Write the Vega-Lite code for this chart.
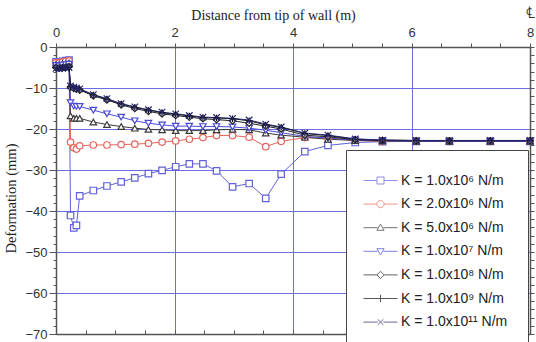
{
"$schema": "https://vega.github.io/schema/vega-lite/v6.json",
"width": 474, "height": 287,
"autosize": "none",
"padding": {"left": 56, "top": 47, "right": 6, "bottom": 8},
"background": "white",
"config": {"view": {"stroke": null}, "axis": {"labelFont": "Liberation Sans", "labelFontSize": 13, "labelColor": "#333", "titleFont": "Liberation Serif", "titleFontSize": 14, "titleFontWeight": "normal", "titleColor": "#222", "domainColor": "#555", "domainWidth": 1.5, "tickColor": "#555", "tickWidth": 1}},
"data": {"values": [
{"K":"K = 1.0x10⁶ N/m","x":0,"y":-3.6},{"K":"K = 1.0x10⁶ N/m","x":0.055,"y":-3.7},{"K":"K = 1.0x10⁶ N/m","x":0.11,"y":-3.5},{"K":"K = 1.0x10⁶ N/m","x":0.165,"y":-3.3},{"K":"K = 1.0x10⁶ N/m","x":0.22,"y":-3.2},{"K":"K = 1.0x10⁶ N/m","x":0.245,"y":-41.1},{"K":"K = 1.0x10⁶ N/m","x":0.3,"y":-44.1},{"K":"K = 1.0x10⁶ N/m","x":0.345,"y":-43.5},{"K":"K = 1.0x10⁶ N/m","x":0.4,"y":-36.3},{"K":"K = 1.0x10⁶ N/m","x":0.63,"y":-35.0},{"K":"K = 1.0x10⁶ N/m","x":0.86,"y":-33.9},{"K":"K = 1.0x10⁶ N/m","x":1.1,"y":-32.9},{"K":"K = 1.0x10⁶ N/m","x":1.33,"y":-31.9},{"K":"K = 1.0x10⁶ N/m","x":1.56,"y":-30.9},{"K":"K = 1.0x10⁶ N/m","x":1.79,"y":-30.1},{"K":"K = 1.0x10⁶ N/m","x":2.02,"y":-29.2},{"K":"K = 1.0x10⁶ N/m","x":2.25,"y":-28.5},{"K":"K = 1.0x10⁶ N/m","x":2.48,"y":-28.5},{"K":"K = 1.0x10⁶ N/m","x":2.71,"y":-30.2},{"K":"K = 1.0x10⁶ N/m","x":2.98,"y":-34.1},{"K":"K = 1.0x10⁶ N/m","x":3.26,"y":-33.3},{"K":"K = 1.0x10⁶ N/m","x":3.54,"y":-36.9},{"K":"K = 1.0x10⁶ N/m","x":3.8,"y":-31.0},{"K":"K = 1.0x10⁶ N/m","x":4.2,"y":-25.5},{"K":"K = 1.0x10⁶ N/m","x":4.59,"y":-24.0},{"K":"K = 1.0x10⁶ N/m","x":5.05,"y":-23.3},{"K":"K = 1.0x10⁶ N/m","x":5.51,"y":-23.1},{"K":"K = 1.0x10⁶ N/m","x":6.08,"y":-23.0},{"K":"K = 1.0x10⁶ N/m","x":6.64,"y":-23.0},{"K":"K = 1.0x10⁶ N/m","x":7.33,"y":-23.0},{"K":"K = 1.0x10⁶ N/m","x":8.0,"y":-23.0},
{"K":"K = 2.0x10⁶ N/m","x":0,"y":-3.8},{"K":"K = 2.0x10⁶ N/m","x":0.055,"y":-3.9},{"K":"K = 2.0x10⁶ N/m","x":0.11,"y":-3.7},{"K":"K = 2.0x10⁶ N/m","x":0.165,"y":-3.5},{"K":"K = 2.0x10⁶ N/m","x":0.22,"y":-3.4},{"K":"K = 2.0x10⁶ N/m","x":0.245,"y":-23.2},{"K":"K = 2.0x10⁶ N/m","x":0.3,"y":-24.6},{"K":"K = 2.0x10⁶ N/m","x":0.345,"y":-24.9},{"K":"K = 2.0x10⁶ N/m","x":0.4,"y":-24.1},{"K":"K = 2.0x10⁶ N/m","x":0.63,"y":-23.9},{"K":"K = 2.0x10⁶ N/m","x":0.86,"y":-23.9},{"K":"K = 2.0x10⁶ N/m","x":1.1,"y":-23.8},{"K":"K = 2.0x10⁶ N/m","x":1.33,"y":-23.7},{"K":"K = 2.0x10⁶ N/m","x":1.56,"y":-23.5},{"K":"K = 2.0x10⁶ N/m","x":1.79,"y":-23.2},{"K":"K = 2.0x10⁶ N/m","x":2.02,"y":-22.9},{"K":"K = 2.0x10⁶ N/m","x":2.25,"y":-22.5},{"K":"K = 2.0x10⁶ N/m","x":2.48,"y":-22.1},{"K":"K = 2.0x10⁶ N/m","x":2.71,"y":-21.6},{"K":"K = 2.0x10⁶ N/m","x":2.98,"y":-21.6},{"K":"K = 2.0x10⁶ N/m","x":3.26,"y":-22.0},{"K":"K = 2.0x10⁶ N/m","x":3.54,"y":-24.3},{"K":"K = 2.0x10⁶ N/m","x":3.8,"y":-23.0},{"K":"K = 2.0x10⁶ N/m","x":4.2,"y":-22.1},{"K":"K = 2.0x10⁶ N/m","x":4.59,"y":-22.3},{"K":"K = 2.0x10⁶ N/m","x":5.05,"y":-22.8},{"K":"K = 2.0x10⁶ N/m","x":5.51,"y":-23.0},{"K":"K = 2.0x10⁶ N/m","x":6.08,"y":-23.0},{"K":"K = 2.0x10⁶ N/m","x":6.64,"y":-23.0},{"K":"K = 2.0x10⁶ N/m","x":7.33,"y":-23.0},{"K":"K = 2.0x10⁶ N/m","x":8.0,"y":-23.0},
{"K":"K = 5.0x10⁶ N/m","x":0,"y":-4.2},{"K":"K = 5.0x10⁶ N/m","x":0.055,"y":-4.3},{"K":"K = 5.0x10⁶ N/m","x":0.11,"y":-4.1},{"K":"K = 5.0x10⁶ N/m","x":0.165,"y":-4.0},{"K":"K = 5.0x10⁶ N/m","x":0.22,"y":-3.9},{"K":"K = 5.0x10⁶ N/m","x":0.245,"y":-16.8},{"K":"K = 5.0x10⁶ N/m","x":0.3,"y":-17.4},{"K":"K = 5.0x10⁶ N/m","x":0.345,"y":-17.4},{"K":"K = 5.0x10⁶ N/m","x":0.4,"y":-17.4},{"K":"K = 5.0x10⁶ N/m","x":0.63,"y":-18.3},{"K":"K = 5.0x10⁶ N/m","x":0.86,"y":-18.9},{"K":"K = 5.0x10⁶ N/m","x":1.1,"y":-19.4},{"K":"K = 5.0x10⁶ N/m","x":1.33,"y":-19.8},{"K":"K = 5.0x10⁶ N/m","x":1.56,"y":-20.1},{"K":"K = 5.0x10⁶ N/m","x":1.79,"y":-20.2},{"K":"K = 5.0x10⁶ N/m","x":2.02,"y":-20.4},{"K":"K = 5.0x10⁶ N/m","x":2.25,"y":-20.4},{"K":"K = 5.0x10⁶ N/m","x":2.48,"y":-20.4},{"K":"K = 5.0x10⁶ N/m","x":2.71,"y":-20.2},{"K":"K = 5.0x10⁶ N/m","x":2.98,"y":-20.1},{"K":"K = 5.0x10⁶ N/m","x":3.26,"y":-20.2},{"K":"K = 5.0x10⁶ N/m","x":3.54,"y":-21.0},{"K":"K = 5.0x10⁶ N/m","x":3.8,"y":-21.5},{"K":"K = 5.0x10⁶ N/m","x":4.2,"y":-22.0},{"K":"K = 5.0x10⁶ N/m","x":4.59,"y":-22.5},{"K":"K = 5.0x10⁶ N/m","x":5.05,"y":-22.8},{"K":"K = 5.0x10⁶ N/m","x":5.51,"y":-22.9},{"K":"K = 5.0x10⁶ N/m","x":6.08,"y":-23.0},{"K":"K = 5.0x10⁶ N/m","x":6.64,"y":-23.0},{"K":"K = 5.0x10⁶ N/m","x":7.33,"y":-23.0},{"K":"K = 5.0x10⁶ N/m","x":8.0,"y":-23.0},
{"K":"K = 1.0x10⁷ N/m","x":0,"y":-4.5},{"K":"K = 1.0x10⁷ N/m","x":0.055,"y":-4.6},{"K":"K = 1.0x10⁷ N/m","x":0.11,"y":-4.4},{"K":"K = 1.0x10⁷ N/m","x":0.165,"y":-4.3},{"K":"K = 1.0x10⁷ N/m","x":0.22,"y":-4.2},{"K":"K = 1.0x10⁷ N/m","x":0.245,"y":-13.6},{"K":"K = 1.0x10⁷ N/m","x":0.3,"y":-14.4},{"K":"K = 1.0x10⁷ N/m","x":0.345,"y":-14.5},{"K":"K = 1.0x10⁷ N/m","x":0.4,"y":-14.5},{"K":"K = 1.0x10⁷ N/m","x":0.63,"y":-15.4},{"K":"K = 1.0x10⁷ N/m","x":0.86,"y":-16.3},{"K":"K = 1.0x10⁷ N/m","x":1.1,"y":-17.1},{"K":"K = 1.0x10⁷ N/m","x":1.33,"y":-18.0},{"K":"K = 1.0x10⁷ N/m","x":1.56,"y":-18.6},{"K":"K = 1.0x10⁷ N/m","x":1.79,"y":-19.0},{"K":"K = 1.0x10⁷ N/m","x":2.02,"y":-19.3},{"K":"K = 1.0x10⁷ N/m","x":2.25,"y":-19.3},{"K":"K = 1.0x10⁷ N/m","x":2.48,"y":-19.4},{"K":"K = 1.0x10⁷ N/m","x":2.71,"y":-19.4},{"K":"K = 1.0x10⁷ N/m","x":2.98,"y":-19.5},{"K":"K = 1.0x10⁷ N/m","x":3.26,"y":-19.8},{"K":"K = 1.0x10⁷ N/m","x":3.54,"y":-20.3},{"K":"K = 1.0x10⁷ N/m","x":3.8,"y":-20.9},{"K":"K = 1.0x10⁷ N/m","x":4.2,"y":-21.8},{"K":"K = 1.0x10⁷ N/m","x":4.59,"y":-22.2},{"K":"K = 1.0x10⁷ N/m","x":5.05,"y":-22.7},{"K":"K = 1.0x10⁷ N/m","x":5.51,"y":-22.9},{"K":"K = 1.0x10⁷ N/m","x":6.08,"y":-23.0},{"K":"K = 1.0x10⁷ N/m","x":6.64,"y":-23.0},{"K":"K = 1.0x10⁷ N/m","x":7.33,"y":-23.0},{"K":"K = 1.0x10⁷ N/m","x":8.0,"y":-23.0},
{"K":"K = 1.0x10⁸ N/m","x":0,"y":-5.0},{"K":"K = 1.0x10⁸ N/m","x":0.055,"y":-5.1},{"K":"K = 1.0x10⁸ N/m","x":0.11,"y":-5.0},{"K":"K = 1.0x10⁸ N/m","x":0.165,"y":-4.9},{"K":"K = 1.0x10⁸ N/m","x":0.22,"y":-4.8},{"K":"K = 1.0x10⁸ N/m","x":0.245,"y":-9.8},{"K":"K = 1.0x10⁸ N/m","x":0.3,"y":-10.1},{"K":"K = 1.0x10⁸ N/m","x":0.345,"y":-10.3},{"K":"K = 1.0x10⁸ N/m","x":0.4,"y":-10.5},{"K":"K = 1.0x10⁸ N/m","x":0.63,"y":-11.9},{"K":"K = 1.0x10⁸ N/m","x":0.86,"y":-12.9},{"K":"K = 1.0x10⁸ N/m","x":1.1,"y":-14.1},{"K":"K = 1.0x10⁸ N/m","x":1.33,"y":-15.0},{"K":"K = 1.0x10⁸ N/m","x":1.56,"y":-15.7},{"K":"K = 1.0x10⁸ N/m","x":1.79,"y":-16.3},{"K":"K = 1.0x10⁸ N/m","x":2.02,"y":-16.7},{"K":"K = 1.0x10⁸ N/m","x":2.25,"y":-17.1},{"K":"K = 1.0x10⁸ N/m","x":2.48,"y":-17.5},{"K":"K = 1.0x10⁸ N/m","x":2.71,"y":-17.7},{"K":"K = 1.0x10⁸ N/m","x":2.98,"y":-18.0},{"K":"K = 1.0x10⁸ N/m","x":3.26,"y":-18.6},{"K":"K = 1.0x10⁸ N/m","x":3.54,"y":-19.3},{"K":"K = 1.0x10⁸ N/m","x":3.8,"y":-20.0},{"K":"K = 1.0x10⁸ N/m","x":4.2,"y":-21.5},{"K":"K = 1.0x10⁸ N/m","x":4.59,"y":-21.9},{"K":"K = 1.0x10⁸ N/m","x":5.05,"y":-22.6},{"K":"K = 1.0x10⁸ N/m","x":5.51,"y":-22.8},{"K":"K = 1.0x10⁸ N/m","x":6.08,"y":-22.9},{"K":"K = 1.0x10⁸ N/m","x":6.64,"y":-22.9},{"K":"K = 1.0x10⁸ N/m","x":7.33,"y":-22.9},{"K":"K = 1.0x10⁸ N/m","x":8.0,"y":-22.9},
{"K":"K = 1.0x10⁹ N/m","x":0,"y":-5.1},{"K":"K = 1.0x10⁹ N/m","x":0.055,"y":-5.2},{"K":"K = 1.0x10⁹ N/m","x":0.11,"y":-5.1},{"K":"K = 1.0x10⁹ N/m","x":0.165,"y":-5.0},{"K":"K = 1.0x10⁹ N/m","x":0.22,"y":-4.9},{"K":"K = 1.0x10⁹ N/m","x":0.245,"y":-9.6},{"K":"K = 1.0x10⁹ N/m","x":0.3,"y":-9.9},{"K":"K = 1.0x10⁹ N/m","x":0.345,"y":-10.1},{"K":"K = 1.0x10⁹ N/m","x":0.4,"y":-10.3},{"K":"K = 1.0x10⁹ N/m","x":0.63,"y":-11.7},{"K":"K = 1.0x10⁹ N/m","x":0.86,"y":-12.7},{"K":"K = 1.0x10⁹ N/m","x":1.1,"y":-13.9},{"K":"K = 1.0x10⁹ N/m","x":1.33,"y":-14.7},{"K":"K = 1.0x10⁹ N/m","x":1.56,"y":-15.4},{"K":"K = 1.0x10⁹ N/m","x":1.79,"y":-16.0},{"K":"K = 1.0x10⁹ N/m","x":2.02,"y":-16.4},{"K":"K = 1.0x10⁹ N/m","x":2.25,"y":-16.8},{"K":"K = 1.0x10⁹ N/m","x":2.48,"y":-17.2},{"K":"K = 1.0x10⁹ N/m","x":2.71,"y":-17.3},{"K":"K = 1.0x10⁹ N/m","x":2.98,"y":-17.5},{"K":"K = 1.0x10⁹ N/m","x":3.26,"y":-18.0},{"K":"K = 1.0x10⁹ N/m","x":3.54,"y":-19.0},{"K":"K = 1.0x10⁹ N/m","x":3.8,"y":-19.6},{"K":"K = 1.0x10⁹ N/m","x":4.2,"y":-21.1},{"K":"K = 1.0x10⁹ N/m","x":4.59,"y":-21.6},{"K":"K = 1.0x10⁹ N/m","x":5.05,"y":-22.5},{"K":"K = 1.0x10⁹ N/m","x":5.51,"y":-22.7},{"K":"K = 1.0x10⁹ N/m","x":6.08,"y":-22.8},{"K":"K = 1.0x10⁹ N/m","x":6.64,"y":-22.8},{"K":"K = 1.0x10⁹ N/m","x":7.33,"y":-22.8},{"K":"K = 1.0x10⁹ N/m","x":8.0,"y":-22.8},
{"K":"K = 1.0x10¹¹ N/m","x":0,"y":-5.2},{"K":"K = 1.0x10¹¹ N/m","x":0.055,"y":-5.3},{"K":"K = 1.0x10¹¹ N/m","x":0.11,"y":-5.2},{"K":"K = 1.0x10¹¹ N/m","x":0.165,"y":-5.1},{"K":"K = 1.0x10¹¹ N/m","x":0.22,"y":-5.0},{"K":"K = 1.0x10¹¹ N/m","x":0.245,"y":-9.5},{"K":"K = 1.0x10¹¹ N/m","x":0.3,"y":-9.8},{"K":"K = 1.0x10¹¹ N/m","x":0.345,"y":-10.0},{"K":"K = 1.0x10¹¹ N/m","x":0.4,"y":-10.2},{"K":"K = 1.0x10¹¹ N/m","x":0.63,"y":-11.6},{"K":"K = 1.0x10¹¹ N/m","x":0.86,"y":-12.6},{"K":"K = 1.0x10¹¹ N/m","x":1.1,"y":-13.8},{"K":"K = 1.0x10¹¹ N/m","x":1.33,"y":-14.6},{"K":"K = 1.0x10¹¹ N/m","x":1.56,"y":-15.3},{"K":"K = 1.0x10¹¹ N/m","x":1.79,"y":-15.9},{"K":"K = 1.0x10¹¹ N/m","x":2.02,"y":-16.3},{"K":"K = 1.0x10¹¹ N/m","x":2.25,"y":-16.7},{"K":"K = 1.0x10¹¹ N/m","x":2.48,"y":-17.1},{"K":"K = 1.0x10¹¹ N/m","x":2.71,"y":-17.2},{"K":"K = 1.0x10¹¹ N/m","x":2.98,"y":-17.4},{"K":"K = 1.0x10¹¹ N/m","x":3.26,"y":-17.8},{"K":"K = 1.0x10¹¹ N/m","x":3.54,"y":-18.8},{"K":"K = 1.0x10¹¹ N/m","x":3.8,"y":-19.5},{"K":"K = 1.0x10¹¹ N/m","x":4.2,"y":-21.0},{"K":"K = 1.0x10¹¹ N/m","x":4.59,"y":-21.5},{"K":"K = 1.0x10¹¹ N/m","x":5.05,"y":-22.4},{"K":"K = 1.0x10¹¹ N/m","x":5.51,"y":-22.7},{"K":"K = 1.0x10¹¹ N/m","x":6.08,"y":-22.8},{"K":"K = 1.0x10¹¹ N/m","x":6.64,"y":-22.8},{"K":"K = 1.0x10¹¹ N/m","x":7.33,"y":-22.8},{"K":"K = 1.0x10¹¹ N/m","x":8.0,"y":-22.8}
]},
"layer": [
{
 "mark": {"type": "line", "strokeWidth": 1, "clip": true},
 "encoding": {
  "x": {"field": "x", "type": "quantitative", "scale": {"domain": [0, 8], "nice": false, "zero": false},
   "axis": {"orient": "top", "values": [0,0.5,1,1.5,2,2.5,3,3.5,4,4.5,5,5.5,6,6.5,7,7.5,8], "labelExpr": "datum.value % 2 == 0 ? format(datum.value, 'd') : ''", "title": "Distance from tip of wall (m)", "titleX": 217, "titlePadding": 4, "tickSize": 4, "labelPadding": 4, "labelFlush": false, "labelOverlap": false, "grid": true, "gridWidth": 1, "gridColor": {"condition": {"test": "datum.value % 2 == 0 && datum.value > 0 && datum.value < 8", "value": "#6d6de6"}, "value": "transparent"}}},
  "y": {"field": "y", "type": "quantitative", "scale": {"domain": [-70, 0], "nice": false, "zero": false},
   "axis": {"orient": "left", "values": [-70,-68,-66,-64,-62,-60,-58,-56,-54,-52,-50,-48,-46,-44,-42,-40,-38,-36,-34,-32,-30,-28,-26,-24,-22,-20,-18,-16,-14,-12,-10,-8,-6,-4,-2,0], "labelExpr": "datum.value % 10 == 0 ? datum.label : ''", "title": "Deformation (mm)", "titleFontSize": 14.5, "titleY": 151, "titlePadding": 6, "tickSize": {"condition": {"test": "datum.value % 10 == 0", "value": 7}, "value": 3}, "labelPadding": 2, "labelOverlap": false, "grid": true, "gridWidth": 1, "gridColor": {"condition": {"test": "datum.value % 10 == 0 && datum.value > -70 && datum.value < 0", "value": "#6d6de6"}, "value": "transparent"}}},
  "color": {"field": "K", "type": "nominal", "scale": {"domain": ["K = 1.0x10⁶ N/m","K = 2.0x10⁶ N/m","K = 5.0x10⁶ N/m","K = 1.0x10⁷ N/m","K = 1.0x10⁸ N/m","K = 1.0x10⁹ N/m","K = 1.0x10¹¹ N/m"], "range": ["#6161d8","#e8625c","#3a3a3a","#4a4ad8","#222222","#111111","#262670"]}, "legend": null}
 }
},
{
 "mark": {"type": "point", "filled": false, "fill": "white", "strokeWidth": 1.2, "size": 42, "opacity": 1},
 "encoding": {
  "x": {"field": "x", "type": "quantitative", "axis": null},
  "y": {"field": "y", "type": "quantitative", "axis": null},
  "color": {"field": "K", "type": "nominal", "scale": {"domain": ["K = 1.0x10⁶ N/m","K = 2.0x10⁶ N/m","K = 5.0x10⁶ N/m","K = 1.0x10⁷ N/m","K = 1.0x10⁸ N/m","K = 1.0x10⁹ N/m","K = 1.0x10¹¹ N/m"], "range": ["#6161d8","#e8625c","#3a3a3a","#4a4ad8","#222222","#111111","#262670"]}, "legend": null},
  "shape": {"field": "K", "type": "nominal", "scale": {"domain": ["K = 1.0x10⁶ N/m","K = 2.0x10⁶ N/m","K = 5.0x10⁶ N/m","K = 1.0x10⁷ N/m","K = 1.0x10⁸ N/m","K = 1.0x10⁹ N/m","K = 1.0x10¹¹ N/m"], "range": ["square","circle","triangle-up","triangle-down","diamond","M-1,0H1M0,-1V1","M-1,-1L1,1M-1,1L1,-1"]}, "legend": null}
 }
},
{
 "transform": [{"filter": "datum.x > 100"}],
 "mark": {"type": "point", "filled": false, "strokeWidth": 1},
 "encoding": {
  "x": {"field": "x", "type": "quantitative", "axis": {"orient": "bottom", "values": [0,0.5,1,1.5,2,2.5,3,3.5,4,4.5,5,5.5,6,6.5,7,7.5,8], "labels": false, "title": null, "tickSize": -4, "grid": false}},
  "y": {"field": "y", "type": "quantitative", "axis": {"orient": "right", "values": [-70,-68,-66,-64,-62,-60,-58,-56,-54,-52,-50,-48,-46,-44,-42,-40,-38,-36,-34,-32,-30,-28,-26,-24,-22,-20,-18,-16,-14,-12,-10,-8,-6,-4,-2,0], "labels": false, "title": null, "tickSize": 4, "grid": false}},
  "color": {"field": "K", "type": "nominal", "scale": {"domain": ["K = 1.0x10⁶ N/m","K = 2.0x10⁶ N/m","K = 5.0x10⁶ N/m","K = 1.0x10⁷ N/m","K = 1.0x10⁸ N/m","K = 1.0x10⁹ N/m","K = 1.0x10¹¹ N/m"], "range": ["#6161d8","#e8625c","#3a3a3a","#4a4ad8","#222222","#111111","#262670"]},
   "legend": {"orient": "none", "legendX": 290, "legendY": 103, "title": null, "padding": 20, "fillColor": "white", "strokeColor": "#444", "symbolSize": 400, "symbolOffset": 4, "symbolStrokeWidth": 1, "symbolFillColor": "transparent", "labelFont": "Liberation Sans", "labelFontSize": 14, "labelColor": "#222", "labelOffset": 10, "rowPadding": 5.6}},
  "shape": {"field": "K", "type": "nominal", "scale": {"domain": ["K = 1.0x10⁶ N/m","K = 2.0x10⁶ N/m","K = 5.0x10⁶ N/m","K = 1.0x10⁷ N/m","K = 1.0x10⁸ N/m","K = 1.0x10⁹ N/m","K = 1.0x10¹¹ N/m"], "range": ["M-1.7,0H-0.35M0.35,0H1.7M-0.35,-0.35H0.35V0.35H-0.35Z","M-1.7,0H-0.36M0.36,0H1.7M-0.36,0A0.36,0.36 0 1,0 0.36,0A0.36,0.36 0 1,0 -0.36,0Z","M-1.7,0H-0.3M0.3,0H1.7M0,-0.36L0.36,0.26H-0.36Z","M-1.7,0H-0.3M0.3,0H1.7M0,0.36L0.36,-0.26H-0.36Z","M-1.7,0H-0.36M0.36,0H1.7M0,-0.36L0.36,0L0,0.36L-0.36,0Z","M-1.7,0H1.7M0,-0.36V0.36","M-1.7,0H-0.28M0.28,0H1.7M-0.28,-0.28L0.28,0.28M-0.28,0.28L0.28,-0.28"]},
   "legend": {"orient": "none", "legendX": 290, "legendY": 103, "title": null, "padding": 20, "fillColor": "white", "strokeColor": "#444", "symbolSize": 400, "symbolOffset": 4, "symbolStrokeWidth": 1, "symbolFillColor": "transparent", "labelFont": "Liberation Sans", "labelFontSize": 14, "labelColor": "#222", "labelOffset": 10, "rowPadding": 5.6}}
 }
},
{
 "data": {"values": [{"symbol": "℄"}]},
 "mark": {"type": "text", "clip": false, "dy": -34, "font": "DejaVu Serif", "fontSize": 16, "color": "#333", "align": "center"},
 "encoding": {
  "x": {"datum": 8, "type": "quantitative", "axis": null},
  "y": {"datum": 0, "type": "quantitative", "axis": null},
  "text": {"field": "symbol"}
 }
}
],
"resolve": {"scale": {"shape": "independent", "color": "independent"}, "axis": {"x": "independent", "y": "independent"}}
}
